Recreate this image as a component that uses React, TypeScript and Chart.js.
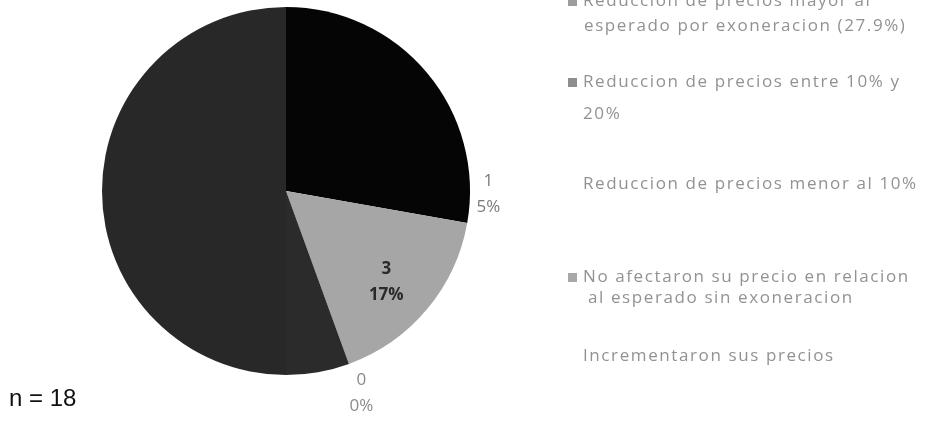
import React, { useEffect, useRef } from "react";
import { Chart, registerables } from "chart.js";

Chart.register(...registerables);

// ---- data ----
const categories = [
  "Reduccion de precios mayor al esperado por exoneracion (27.9%)",
  "Reduccion de precios entre 10% y 20%",
  "Reduccion de precios menor al 10%",
  "No afectaron su precio en relacion al esperado sin exoneracion",
  "Incrementaron sus precios",
];
const legendLines = [
  ["Reduccion de precios mayor al", "esperado por exoneracion (27.9%)"],
  ["Reduccion de precios entre 10% y", "20%"],
  ["Reduccion de precios menor al 10%"],
  ["No afectaron su precio en relacion", "al esperado sin exoneracion"],
  ["Incrementaron sus precios"],
];
const counts = [5, 9, 0, 3, 1];
const valueLabels = ["5", "9", "0", "3", "1"];
const percentLabels = ["28%", "50%", "0%", "17%", "5%"];
const sampleLabel = "n = 18";

// ---- styles ----
const sliceColors = ["#050505", "#282828", "#ffffff", "#a6a6a6", "#2b2b2b"];
const markerColors = ["#9c9c9c", "#8e8e8e", null, "#a8a8a8", null];
const labelColors = [null, null, "#8a8a8a", "#2a2a2a", "#7a7a7a"];
const labelBold = [false, false, false, true, false];
// label centers relative to pie center, in units of radius
const labelOffsets = [
  [0.55, -0.5],
  [-0.5, 0.2],
  [0.41, 1.1],
  [0.545, 0.495],
  [1.1, 0.016],
];
const legendMarkerX = [568, 568, 0, 568, 0];
const legendTextX = [583, 583, 583, 583, 583];
const legendLine2X = [584, 583, 583, 588, 583];
const legendLineY = [[1, 26], [82, 114], [184], [277, 298], [356]];

// drawing order of the slices, clockwise from 12 o'clock
const order = [0, 3, 2, 4, 1];

const overlayPlugin = {
  id: "overlay",
  afterDraw(chart: any) {
    const ctx = chart.ctx as CanvasRenderingContext2D;
    const meta = chart.getDatasetMeta(0);
    const arc0 = meta.data[0] as any;
    const cx = arc0.x;
    const cy = arc0.y;
    const r = arc0.outerRadius;
    ctx.save();
    ctx.textAlign = "center";
    ctx.textBaseline = "middle";
    for (let i = 0; i < categories.length; i++) {
      const col = labelColors[i];
      if (!col) continue;
      const [fx, fy] = labelOffsets[i];
      const x = cx + fx * r;
      const y = cy + fy * r;
      ctx.fillStyle = col;
      ctx.font = `${labelBold[i] ? "bold " : ""}17px "Open Sans", sans-serif`;
      ctx.fillText(valueLabels[i], x, y - 13);
      ctx.fillText(percentLabels[i], x, y + 13);
    }
    // legend
    ctx.textAlign = "left";
    ctx.font = `17px "Open Sans", sans-serif`;
    (ctx as any).letterSpacing = "1.6px";
    for (let i = 0; i < legendLines.length; i++) {
      const lines = legendLines[i];
      const ys = legendLineY[i];
      const mc = markerColors[i];
      if (mc) {
        ctx.fillStyle = mc;
        ctx.fillRect(legendMarkerX[i], ys[0] - 4, 9, 9);
      }
      ctx.fillStyle = "#929292";
      lines.forEach((ln, k) => {
        ctx.fillText(ln, k === 0 ? legendTextX[i] : legendLine2X[i], ys[k]);
      });
    }
    (ctx as any).letterSpacing = "0px";
    // sample size
    ctx.fillStyle = "#111111";
    ctx.font = `24px Arial, "Liberation Sans", sans-serif`;
    ctx.fillText(sampleLabel, 9, 399);
    ctx.restore();
  },
};

export default function App() {
  const ref = useRef<HTMLCanvasElement | null>(null);
  useEffect(() => {
    if (!ref.current) return;
    const chart = new Chart(ref.current, {
      type: "pie",
      data: {
        labels: order.map((i) => categories[i]),
        datasets: [
          {
            data: order.map((i) => counts[i]),
            backgroundColor: order.map((i) => sliceColors[i]),
            borderWidth: 0,
          },
        ],
      },
      options: {
        responsive: false,
        animation: false,
        rotation: 0,
        layout: { padding: { left: 102, top: 7, right: 456, bottom: 48 } },
        plugins: {
          legend: { display: false },
          tooltip: { enabled: false },
        },
      },
      plugins: [overlayPlugin],
    });
    return () => chart.destroy();
  }, []);
  return (
    <div style={{ position: "fixed", left: 0, top: 0, width: 926, height: 423, background: "#ffffff" }}>
      <canvas ref={ref} width={926} height={423} style={{ display: "block" }} />
    </div>
  );
}
